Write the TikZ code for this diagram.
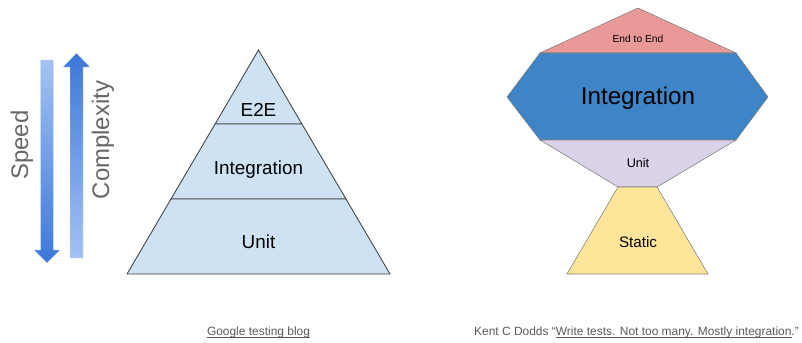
\documentclass[tikz,border=0pt]{standalone}
\usepackage{fontspec}
\setmainfont{Liberation Sans}
\usetikzlibrary{positioning,calc}
\definecolor{pyrfill}{HTML}{CFE2F3}
\definecolor{pyrline}{HTML}{3C4043}
\definecolor{e2ered}{HTML}{EA9999}
\definecolor{intblue}{HTML}{3D85C6}
\definecolor{unitlilac}{HTML}{D9D2E9}
\definecolor{staticyellow}{HTML}{FFE599}
\definecolor{trophyline}{HTML}{7F7F7F}
\definecolor{arrowlight}{HTML}{A4C2F4}
\definecolor{arrowdark}{HTML}{3C78D8}
\definecolor{captiongray}{HTML}{595959}
\definecolor{axisgray}{HTML}{666666}
% link-style underline at a fixed depth
\newcommand{\linktext}[1]{\setbox0\hbox{#1}\rlap{\raisebox{-1.6pt}{\rule{\wd0}{0.45pt}}}\box0}

\begin{document}
\begin{tikzpicture}[x=0.025cm, y=-0.025cm,
  layer/.style={draw=pyrline, line width=0.6pt, fill=pyrfill, line join=miter},
  trophy/.style={draw=trophyline, line width=0.4pt, line join=miter},
  lbl/.style={font=\fontsize{13.4}{15}\selectfont, text=black, inner sep=0pt},
  axislbl/.style={rotate=90, font=\fontsize{17}{20}\selectfont, text=axisgray, inner sep=0pt},
  caption/.style={font=\fontsize{8.5}{10}\selectfont, text=captiongray, inner sep=0pt}
]
\useasboundingbox (0,0) rectangle (802,342);

% speed / complexity arrows
\shade[top color=arrowlight, bottom color=arrowdark, draw=arrowlight!60, line width=0.3pt]
  (40.7,60) -- (53.3,60) -- (53.3,250) -- (60,250) -- (47,263) -- (34,250) -- (40.7,250) -- cycle;
\shade[top color=arrowdark, bottom color=arrowlight, draw=arrowlight!60, line width=0.3pt]
  (76.5,53) -- (90,67) -- (83,67) -- (83,258) -- (70,258) -- (70,67) -- (63,67) -- cycle;
\node[axislbl] (speed) at (22,145) {Speed};
\node[axislbl] (complexity) at (103,140) {Complexity};

% test pyramid
\coordinate (apex) at (258.5,50);
\coordinate (e2el) at (215.1,124);
\coordinate (e2er) at (301.9,124);
\coordinate (intl) at (171,199);
\coordinate (intr) at (346,199);
\coordinate (basel) at (127,274);
\coordinate (baser) at (390,274);
\draw[layer] (apex) -- (e2er) -- (e2el) -- cycle;
\draw[layer] (e2el) -- (e2er) -- (intr) -- (intl) -- cycle;
\draw[layer] (intl) -- (intr) -- (baser) -- (basel) -- cycle;
\node[lbl] (pe2e) at (258.5,110) {E2E};
\node[lbl] (pint) at (258.5,170) {Integration};
\node[lbl] (punit) at (258.5,242) {Unit};

% testing trophy
\coordinate (ttop) at (638,8);
\coordinate (tl) at (540,53);
\coordinate (tr) at (736,53);
\coordinate (ml) at (507,97);
\coordinate (mr) at (768,97);
\coordinate (bl) at (540,140);
\coordinate (br) at (736,140);
\coordinate (nl) at (618,187);
\coordinate (nr) at (657,187);
\coordinate (sl) at (567,274);
\coordinate (sr) at (708,274);
\draw[trophy, fill=e2ered] (ttop) -- (tr) -- (tl) -- cycle;
\draw[trophy, fill=intblue] (tl) -- (tr) -- (mr) -- (br) -- (bl) -- (ml) -- cycle;
\draw[trophy, fill=unitlilac] (bl) -- (br) -- (nr) -- (nl) -- cycle;
\draw[trophy, fill=staticyellow] (nl) -- (nr) -- (sr) -- (sl) -- cycle;
\node[lbl, font=\fontsize{7.3}{9}\selectfont] (te2e) at (638,39) {End to End};
\node[lbl, font=\fontsize{17.2}{20}\selectfont] (tint) at (638,98) {Integration};
\node[lbl, font=\fontsize{9}{11}\selectfont] (tunit) at (638,163) {Unit};
\node[lbl, font=\fontsize{10.8}{13}\selectfont] (tstatic) at (638,242) {Static};

% sources
\node[caption] (gblog) at (258.5,332) {\linktext{Google testing blog}};
\node[caption] (kcd) at (636.5,332) {Kent C Dodds “\linktext{Write tests. Not too many. Mostly integration}.”};
\end{tikzpicture}
\end{document}
